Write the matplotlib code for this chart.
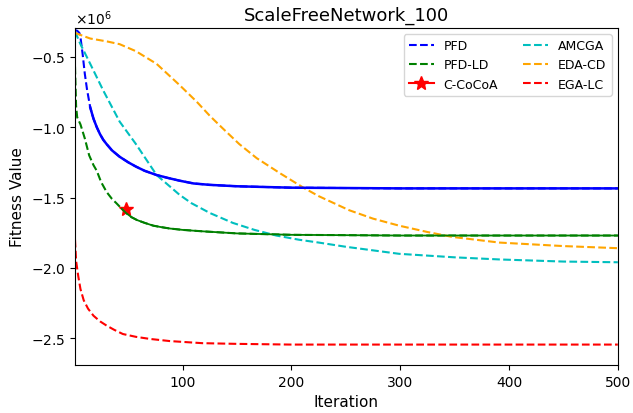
import numpy as np
import matplotlib.pyplot as plt

# Fitness curves (values in units of 1e6)
pfd_x = [1, 3, 5, 6, 8, 10, 12, 15, 18, 21, 24, 27, 30, 35, 42, 50, 57, 65, 76, 86, 97, 110, 125, 150, 200, 300, 400, 500]
pfd_y = [-0.31, -0.315, -0.33, -0.36, -0.48, -0.62, -0.73, -0.86, -0.94, -1.0, -1.05, -1.09, -1.12, -1.165, -1.21,
         -1.25, -1.28, -1.31, -1.34, -1.36, -1.38, -1.40, -1.41, -1.42, -1.43, -1.435, -1.435, -1.435]

pfdld_x = [1, 2, 3, 6, 10, 14, 18, 21, 25, 30, 35, 39, 44, 48, 53, 58, 65, 73, 80, 88, 100, 118, 150, 200, 300, 400, 500]
pfdld_y = [-0.57, -0.85, -0.93, -0.98, -1.08, -1.2, -1.27, -1.31, -1.39, -1.46, -1.51, -1.54, -1.58, -1.61, -1.64,
           -1.66, -1.68, -1.70, -1.71, -1.72, -1.73, -1.74, -1.755, -1.765, -1.77, -1.77, -1.77]

amcga_x = [1, 6, 15, 27, 42, 57, 76, 97, 108, 125, 146, 166, 186, 207, 225, 250, 299, 350, 391, 450, 500]
amcga_y = [-0.32, -0.41, -0.55, -0.74, -0.96, -1.12, -1.34, -1.48, -1.54, -1.61, -1.68, -1.73, -1.77, -1.80, -1.82,
           -1.85, -1.90, -1.925, -1.94, -1.955, -1.96]

edacd_x = [1, 15, 30, 42, 57, 76, 97, 113, 125, 137, 152, 168, 190, 211, 225, 253, 275, 299, 325, 348, 391, 450, 500]
edacd_y = [-0.33, -0.37, -0.39, -0.41, -0.46, -0.55, -0.70, -0.82, -0.92, -1.01, -1.12, -1.22, -1.33, -1.43,
           -1.49, -1.59, -1.65, -1.70, -1.745, -1.78, -1.82, -1.845, -1.86]

egalc_x = [1, 2, 4, 6, 9, 13, 18, 24, 30, 37, 45, 57, 70, 88, 118, 150, 200, 300, 500]
egalc_y = [-1.80, -1.95, -2.06, -2.15, -2.23, -2.29, -2.34, -2.38, -2.41, -2.44, -2.47, -2.49, -2.505, -2.52,
           -2.535, -2.54, -2.545, -2.545, -2.545]

cocoa_x = [48]
cocoa_y = [-1.58]

scale = 1e6

fig, ax = plt.subplots(figsize=(6.33, 4.14), dpi=100)
fig.subplots_adjust(left=0.1185, right=0.976, top=0.930, bottom=0.116)

ax.plot(pfd_x, np.array(pfd_y)*scale, '--', color='blue', label='PFD')
ax.plot(pfdld_x, np.array(pfdld_y)*scale, '--', color='green', label='PFD-LD')
ax.plot(cocoa_x, np.array(cocoa_y)*scale, '-*', color='red', markersize=10, label='C-CoCoA')
ax.plot(amcga_x, np.array(amcga_y)*scale, '--', color='c', label='AMCGA')
ax.plot(edacd_x, np.array(edacd_y)*scale, '--', color='orange', label='EDA-CD')
ax.plot(egalc_x, np.array(egalc_y)*scale, '--', color='red', label='EGA-LC')

# the dense PFD / PFD-LD runs look solid once they flatten out
ax.plot(pfd_x[7:], np.array(pfd_y[7:])*scale, '-', color='blue', lw=1.8)
ax.plot(pfdld_x[12:], np.array(pfdld_y[12:])*scale, '-', color='green', lw=1.3)

ax.set_xlim(1, 500)
ax.set_ylim(-2.69e6, -0.295e6)
ax.ticklabel_format(axis='y', style='sci', scilimits=(0, 0), useMathText=True)
ax.set_xlabel('Iteration', fontsize=11)
ax.set_ylabel('Fitness Value', fontsize=11)
ax.set_title('ScaleFreeNetwork_100', fontsize=13)
ax.legend(ncol=2, loc='upper right', fontsize=9)

fig.savefig('out.png')
